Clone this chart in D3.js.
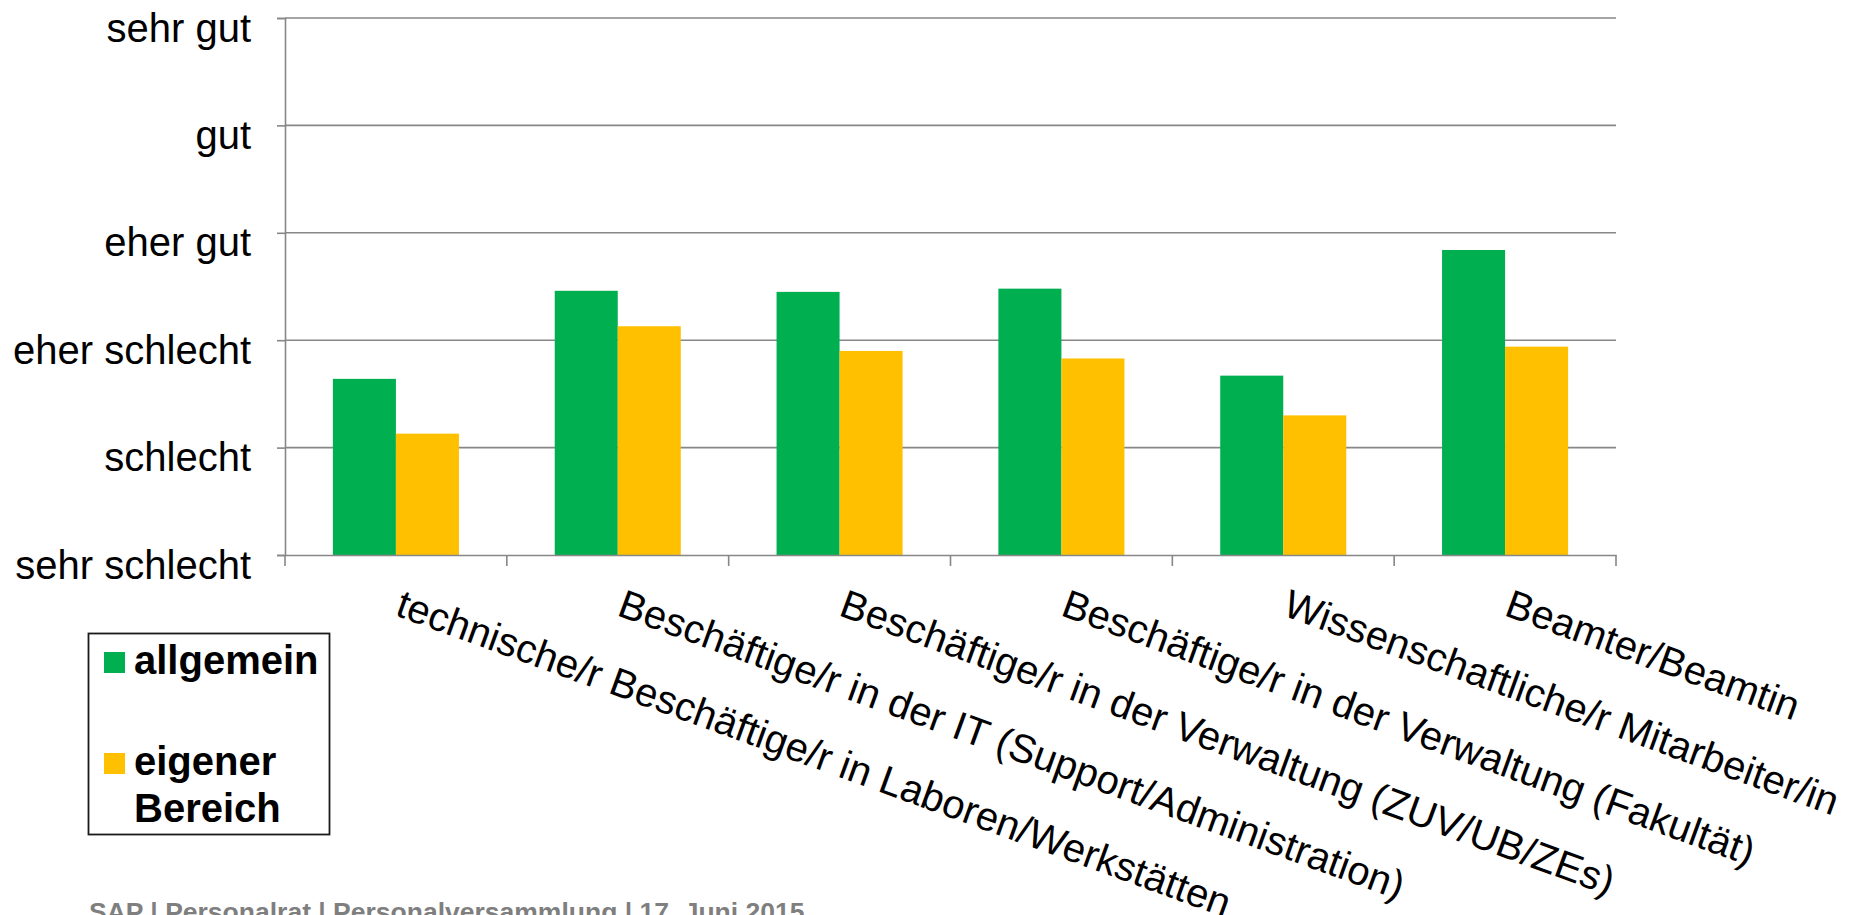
<!DOCTYPE html>
<html>
<head>
<meta charset="utf-8">
<script src="https://cdn.jsdelivr.net/npm/d3@7"></script>
<style>
  html, body { margin: 0; padding: 0; background: #fff; overflow: hidden; }
  svg text { font-family: "Liberation Sans", Arial, sans-serif; }
</style>
</head>
<body>
<svg width="1851" height="915"></svg>
<script>

// data (1 = sehr schlecht ... 6 = sehr gut)
let categories = [
  "technische/r Beschäftige/r in Laboren/Werkstätten",
  "Beschäftige/r in der IT (Support/Administration)",
  "Beschäftige/r in der Verwaltung (ZUV/UB/ZEs)",
  "Beschäftige/r in der Verwaltung (Fakultät)",
  "Wissenschaftliche/r Mitarbeiter/in",
  "Beamter/Beamtin"
];
let allgemein = [2.64, 3.46, 3.45, 3.48, 2.67, 3.84];
let eigenerBereich = [2.13, 3.13, 2.90, 2.83, 2.30, 2.94];
let seriesNames = ["allgemein", "eigener Bereich"];
let seriesColors = ["#00b050", "#ffc000"];
let yTickLabels = ["sehr schlecht", "schlecht", "eher schlecht", "eher gut", "gut", "sehr gut"];
let footerText = "SAP | Personalrat | Personalversammlung | 17. Juni 2015";

let svg = d3.select("svg");

let plotLeft = 285, plotRight = 1616, plotTop = 18, plotBottom = 555;

let x0 = d3.scaleBand()
  .domain(categories)
  .range([plotLeft, plotRight])
  .padding(0);

let x1 = d3.scaleBand()
  .domain(seriesNames)
  .range([0, x0.bandwidth()])
  .paddingInner(0)
  .paddingOuter(0.76);

let y = d3.scaleLinear()
  .domain([1, 6])
  .range([plotBottom, plotTop]);

let color = d3.scaleOrdinal().domain(seriesNames).range(seriesColors);

// gridlines
svg.append("g")
  .selectAll("line")
  .data(d3.range(2, 7))
  .enter().append("line")
  .attr("x1", plotLeft)
  .attr("x2", plotRight)
  .attr("y1", d => y(d))
  .attr("y2", d => y(d))
  .attr("stroke", "#878787")
  .attr("stroke-width", 1.6);

// bars
let rows = categories.map((c, i) => ({ cat: c, values: [allgemein[i], eigenerBereich[i]] }));

svg.append("g")
  .selectAll("g")
  .data(rows)
  .enter().append("g")
  .attr("transform", d => "translate(" + x0(d.cat) + ",0)")
  .selectAll("rect")
  .data(d => d.values.map((v, j) => ({ key: seriesNames[j], value: v })))
  .enter().append("rect")
  .attr("x", d => x1(d.key))
  .attr("y", d => y(d.value))
  .attr("width", x1.bandwidth())
  .attr("height", d => y(1) - y(d.value))
  .attr("fill", d => color(d.key));

// y axis
let yAxis = d3.axisLeft(y)
  .tickValues(d3.range(1, 7))
  .tickSize(8)
  .tickFormat(d => yTickLabels[d - 1]);

let gy = svg.append("g")
  .attr("transform", "translate(" + plotLeft + ",0)")
  .call(yAxis);
gy.select(".domain").attr("stroke", "#878787").attr("stroke-width", 1.6);
gy.selectAll(".tick line").attr("stroke", "#878787").attr("stroke-width", 1.6);
gy.selectAll(".tick text")
  .attr("x", -34)
  .attr("dy", 23)
  .attr("fill", "#000")
  .style("font-size", "40px")
  .style("font-family", "'Liberation Sans', Arial, sans-serif");

// x axis
let xAxis = d3.axisBottom(x0).tickSize(0).tickFormat("");
let gx = svg.append("g")
  .attr("transform", "translate(0," + plotBottom + ")")
  .call(xAxis);
gx.select(".domain").attr("stroke", "#878787").attr("stroke-width", 1.6);

// category separator ticks
gx.selectAll(".sep")
  .data(categories.concat([null]))
  .enter().append("line")
  .attr("class", "sep")
  .attr("x1", (d, i) => plotLeft + i * x0.step())
  .attr("x2", (d, i) => plotLeft + i * x0.step())
  .attr("y1", 0)
  .attr("y2", 11)
  .attr("stroke", "#878787")
  .attr("stroke-width", 1.6);

// rotated category labels
svg.append("g")
  .selectAll("text")
  .data(categories)
  .enter().append("text")
  .attr("transform", d => "translate(" + (x0(d) + x0.bandwidth() / 2 - 2) + "," + (plotBottom + 60) + ") rotate(20)")
  .attr("text-anchor", "start")
  .attr("fill", "#000")
  .style("font-size", "40px")
  .text(d => d);

// legend
let legend = svg.append("g");
legend.append("rect")
  .attr("x", 88.5)
  .attr("y", 633.5)
  .attr("width", 241)
  .attr("height", 201)
  .attr("fill", "#fff")
  .attr("stroke", "#1a1a1a")
  .attr("stroke-width", 1.8);

let legendItems = [
  { name: seriesNames[0], lines: ["allgemein"], y: 652 },
  { name: seriesNames[1], lines: ["eigener", "Bereich"], y: 753 }
];

let li = legend.selectAll(".item")
  .data(legendItems)
  .enter().append("g")
  .attr("class", "item");

li.append("rect")
  .attr("x", 104)
  .attr("y", d => d.y)
  .attr("width", 21)
  .attr("height", 21)
  .attr("fill", d => color(d.name));

li.append("text")
  .style("font-size", "40px")
  .style("font-weight", "bold")
  .attr("fill", "#000")
  .selectAll("tspan")
  .data(d => d.lines.map((t, i) => ({ t: t, y: d.y + 22 + i * 47 })))
  .enter().append("tspan")
  .attr("x", 134)
  .attr("y", d => d.y)
  .text(d => d.t);

// footer
svg.append("text")
  .attr("x", 89)
  .attr("y", 921)
  .attr("fill", "#7f7f7f")
  .style("font-size", "26.5px")
  .style("font-weight", "bold")
  .text(footerText);

</script>
</body>
</html>
